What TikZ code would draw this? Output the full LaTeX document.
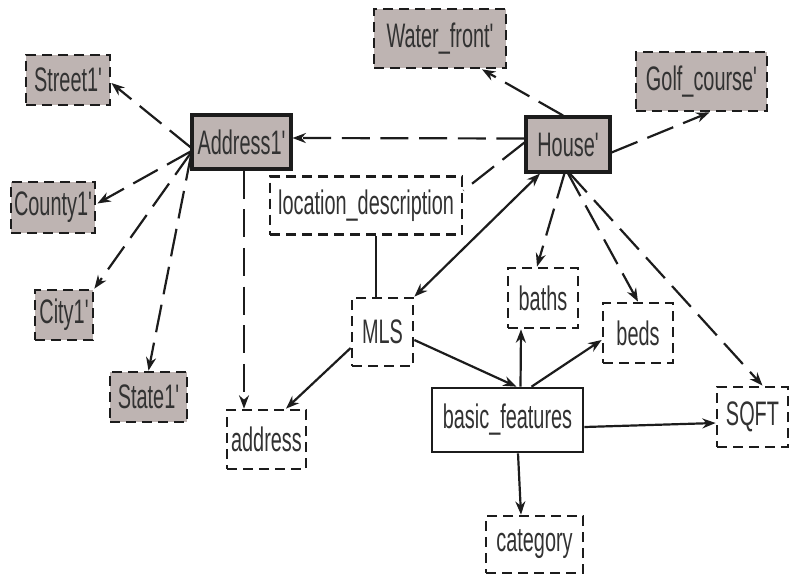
\documentclass[tikz,border=0pt]{standalone}
\usepackage{fontspec}
\setmainfont{Liberation Sans}[FakeStretch=0.585,Ligatures=TeXOff]
\usetikzlibrary{arrows.meta,calc}
\definecolor{boxgray}{RGB}{190,180,178}
\definecolor{ink}{RGB}{28,28,28}
\definecolor{txt}{RGB}{50,50,50}

\begin{document}
\begin{tikzpicture}[x=0.75pt,y=-0.75pt,
  sz/.style 2 args={minimum width=#1*0.75pt,minimum height=#2*0.75pt},
  box/.style={rectangle,inner sep=0pt,text=txt,font=\fontsize{25.5}{28}\selectfont},
  entity/.style={box,fill=boxgray,draw=ink,line width=2.3pt},
  shadedattr/.style={box,fill=boxgray,draw=ink,line width=2.05pt,dash pattern=on 7.5pt off 4.5pt},
  attr/.style={box,draw=ink,line width=2.05pt,dash pattern=on 7.5pt off 4.5pt},
  plainbox/.style={box,draw=ink,line width=2pt},
  conn/.style={draw=ink,line width=1.65pt},
  dconn/.style={conn,dash pattern=on 21pt off 8pt},
  arr/.style={-{Stealth[length=10pt,width=7.5pt]}},
  biarr/.style={{Stealth[length=10pt,width=7.5pt]}-{Stealth[length=10pt,width=7.5pt]}}]

\useasboundingbox (0,0) rectangle (791,575);

% entity boxes
\node[entity,sz={99}{54}] (addr) at (241.5,142) {Address1'};
\node[entity,sz={84}{55}] (house) at (568,144.5) {House'};

% derived (shaded) attribute boxes
\node[shadedattr,sz={84}{50}] (street) at (68,80) {Street1'};
\node[shadedattr,sz={84}{51}] (county) at (53,207.5) {County1'};
\node[shadedattr,sz={58}{50}] (city) at (64,315) {City1'};
\node[shadedattr,sz={77}{50}] (state) at (148.5,397) {State1'};
\node[shadedattr,sz={132}{59}] (water) at (440,38.5) {Water\_front'};
\node[shadedattr,sz={131}{59}] (golf) at (701.5,81.5) {Golf\_course'};

% plain attribute boxes
\node[attr,sz={192}{58}] (loc) at (366,205.5) {location\_description};
\node[attr,sz={61}{68}] (mls) at (382.5,332) {MLS};
\node[attr,sz={70}{60}] (baths) at (543,298) {baths};
\node[attr,sz={70}{60}] (beds) at (638,333) {beds};
\node[plainbox,sz={151}{64}] (bf) at (507.5,420) {basic\_features};
\node[attr,sz={71}{60}] (sqft) at (752.5,417) {SQFT};
\node[attr,sz={79}{59}] (address) at (266.5,439.5) {address};
\node[attr,sz={97}{57}] (category) at (534.5,544.5) {category};

% links out of Address1'
\draw[dconn,arr] ($(addr.west)+(1,6)$) -- ($(street.east)+(0,3)$);
\draw[dconn,arr] ($(addr.west)+(1,9)$) -- ($(county.east)+(1,-4)$);
\draw[dconn,arr] ($(addr.west)+(1,10)$) -- (city.north east);
\draw[dconn,arr] ($(addr.west)+(1,11)$) -- (state.north);
\draw[dconn,arr] ($(addr.south)+(2.5,0)$) -- ($(address.north)+(-22.5,0)$);

% links out of House'
\draw[dconn,arr] ($(house.west)+(0,-6)$) -- ($(addr.east)+(0,-4)$);
\draw[dconn,arr] ($(house.north)+(-5,0)$) -- ($(water.south)+(42,0)$);
\draw[dconn,arr] ($(house.east)+(0,8)$) -- ($(golf.south)+(8,0)$);
\draw[dconn] ($(house.west)+(0,-2)$) -- ($(loc.east)+(0,-15)$);
\draw[dconn,arr] ($(house.south)+(-3,-2)$) -- ($(baths.north)+(-6,0)$);
\draw[dconn,arr] ($(house.south)+(-1,-2)$) -- (beds.north);
\draw[dconn,arr] ($(house.south)+(0,-2)$) -- ($(sqft.north)+(10,0)$);

% solid links
\draw[conn] ($(loc.south)+(10,0)$) -- ($(mls.north)+(-6.5,0)$);
\draw[conn,biarr] (mls.north east) -- ($(house.south)+(-28,0)$);
\draw[conn,arr] ($(mls.west)+(0,16)$) -- ($(address.north)+(19.5,0)$);
\draw[conn,arr] ($(mls.east)+(0,8)$) -- ($(bf.north)+(9,0)$);
\draw[conn,arr] ($(bf.north)+(13,0)$) -- ($(baths.south)+(-22,0)$);
\draw[conn,arr] ($(bf.north)+(24,0)$) -- ($(beds.west)+(0,7)$);
\draw[conn,arr] ($(bf.east)+(0,7)$) -- ($(sqft.west)+(0,6)$);
\draw[conn,arr] ($(bf.south)+(10.5,0)$) -- ($(category.north)+(-13.5,0)$);
\end{tikzpicture}
\end{document}
